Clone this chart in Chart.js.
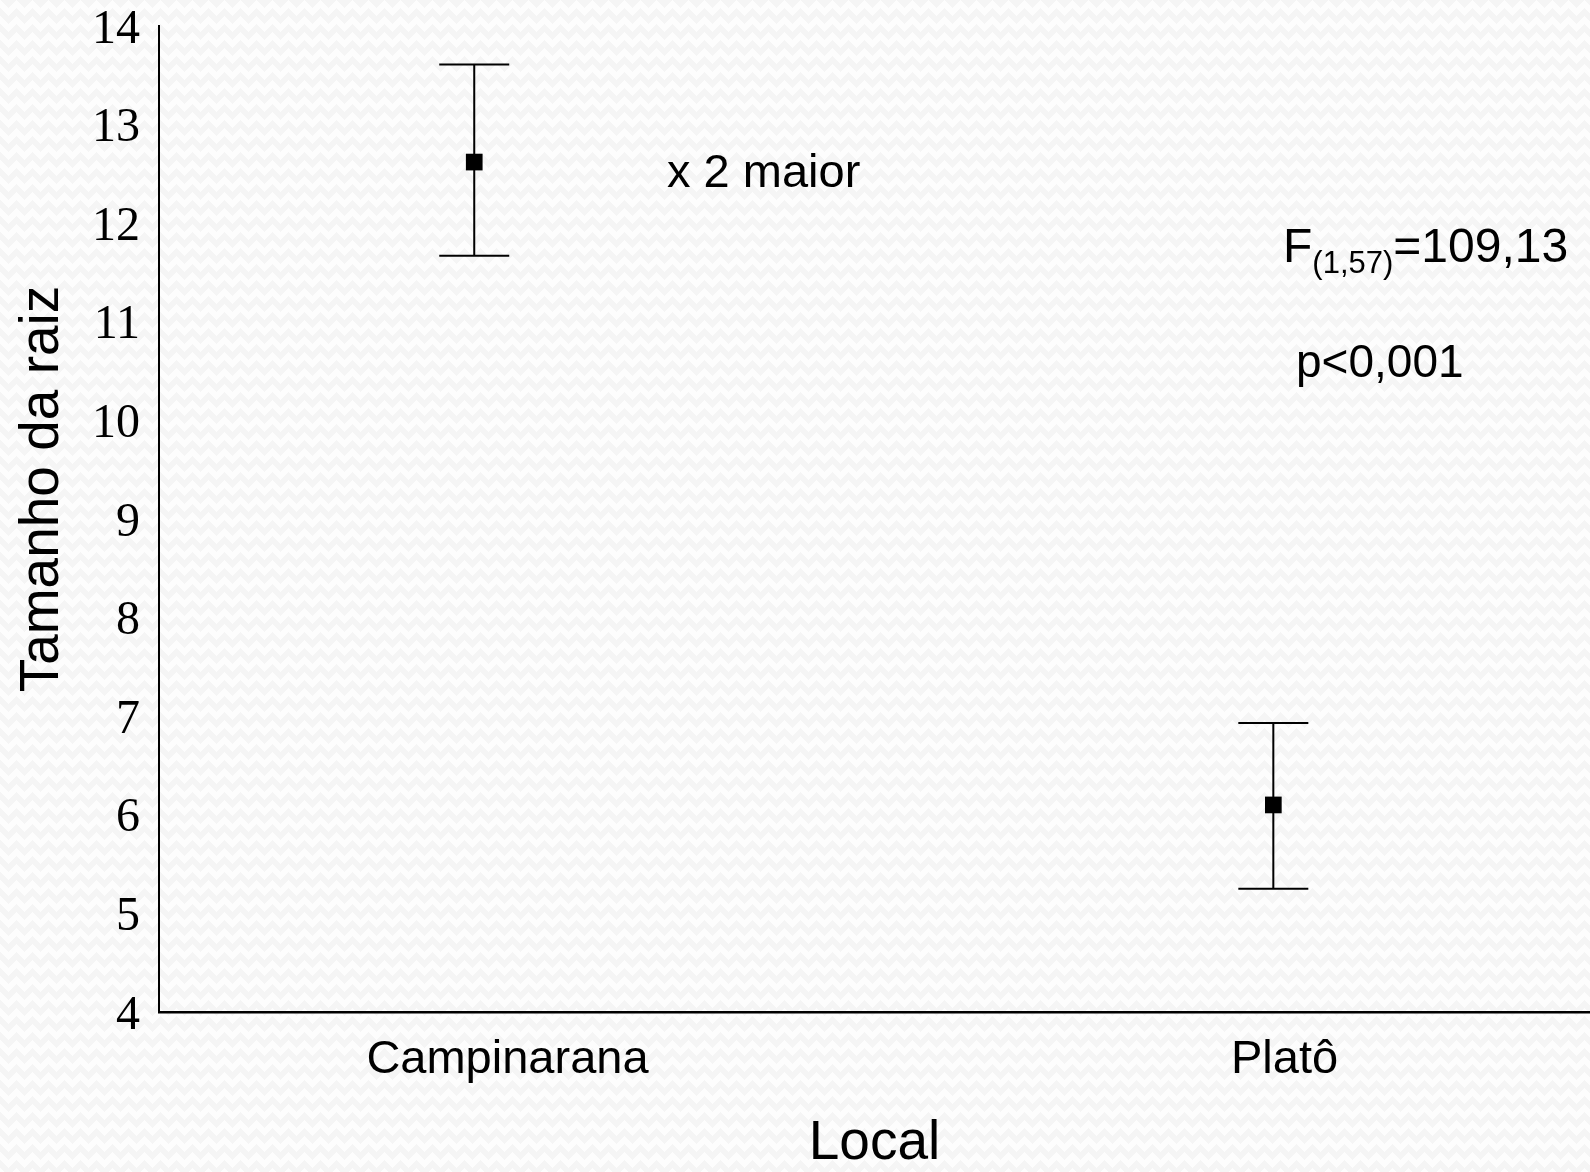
<!DOCTYPE html>
<html>
<head>
<meta charset="utf-8">
<title>Tamanho da raiz por local</title>
<script src="https://cdn.jsdelivr.net/npm/chart.js@4.4.1/dist/chart.umd.min.js"></script>
<style>
  html, body { margin: 0; padding: 0; }
  body {
    width: 1590px; height: 1172px; overflow: hidden;
    background-color: #fdfdfd;
    background-image:
      linear-gradient(135deg, #f5f5f5 25%, transparent 25%),
      linear-gradient(225deg, #f5f5f5 25%, transparent 25%),
      linear-gradient(315deg, #f5f5f5 25%, transparent 25%),
      linear-gradient(45deg, #f5f5f5 25%, transparent 25%);
    background-size: 16px 16px;
    background-position: -8px 0, -8px 0, 0 0, 0 0;
  }
  canvas { display: block; }
</style>
</head>
<body>
<canvas id="raizChart" width="1590" height="1172"></canvas>
<script>
// values
const categories = ['Campinarana', 'Platô'];
const xPos = [1, 2];
const means = [12.62, 6.10];
const upper = [13.61, 6.93];
const lower = [11.67, 5.25];
const yMin = 4, yMax = 14;

const SANS = "'Liberation Sans', Arial, sans-serif";
const SERIF = "'Liberation Serif', 'Times New Roman', serif";

// vertical error bars with caps
const errorBars = {
    id: 'errorBars',
    beforeDatasetsDraw(chart) {
        const ctx = chart.ctx;
        const xs = chart.scales.x, ys = chart.scales.y;
        ctx.save();
        ctx.strokeStyle = '#000';
        ctx.lineWidth = 2;
        xPos.forEach(function(v, i) {
            const px = xs.getPixelForValue(v);
            const hi = ys.getPixelForValue(upper[i]);
            const lo = ys.getPixelForValue(lower[i]);
            ctx.beginPath();
            ctx.moveTo(px, hi); ctx.lineTo(px, lo);
            ctx.moveTo(px - 35, hi); ctx.lineTo(px + 35, hi);
            ctx.moveTo(px - 35, lo); ctx.lineTo(px + 35, lo);
            ctx.stroke();
        });
        ctx.restore();
    }
};

// y title + text annotations
const annotations = {
    id: 'annotations',
    afterDraw(chart) {
        const ctx = chart.ctx;
        ctx.save();
        ctx.fillStyle = '#000';
        ctx.textBaseline = 'alphabetic';

        // y axis title
        ctx.save();
        ctx.translate(58, 489);
        ctx.rotate(-Math.PI / 2);
        ctx.textAlign = 'center';
        ctx.font = '55px ' + SANS;
        ctx.fillText('Tamanho da raiz', 0, 0);
        ctx.restore();

        ctx.textAlign = 'left';
        ctx.font = '47px ' + SANS;
        ctx.fillText('x 2 maior', 667, 187);

        // F(1,57)=109,13
        let x = 1283;
        ctx.font = '48px ' + SANS;
        ctx.fillText('F', x, 262);
        x += ctx.measureText('F').width;
        ctx.font = '31px ' + SANS;
        ctx.fillText('(1,57)', x, 273);
        x += ctx.measureText('(1,57)').width;
        ctx.font = '48px ' + SANS;
        ctx.fillText('=109,13', x, 262);

        ctx.font = '46px ' + SANS;
        ctx.fillText('p<0,001', 1296, 377);
        ctx.restore();
    }
};

const ctx = document.getElementById('raizChart').getContext('2d');
new Chart(ctx, {
    type: 'scatter',
    data: {
        datasets: [{
            data: xPos.map(function(v, i) { return { x: v, y: means[i] }; }),
            pointStyle: 'rect',
            pointRadius: 11.8,
            pointHoverRadius: 11.8,
            backgroundColor: '#000',
            borderWidth: 0
        }]
    },
    options: {
        responsive: false,
        animation: false,
        devicePixelRatio: 1,
        layout: { autoPadding: false, padding: { top: 26, left: 0, right: 0, bottom: 0 } },
        plugins: { legend: { display: false }, tooltip: { enabled: false } },
        scales: {
            x: {
                type: 'linear',
                display: false,
                min: 0.6055,
                max: 2.3963
            },
            xl: {
                type: 'linear',
                position: 'bottom',
                min: 0.5516,
                max: 2.393,
                grid: { display: false, drawTicks: false },
                border: { display: true, color: '#000', width: 2.5 },
                afterBuildTicks: function(s) { s.ticks = xPos.map(function(v) { return { value: v }; }); },
                afterFit: function(s) { s.height = 160; s.paddingLeft = 0; s.paddingRight = 0; },
                ticks: {
                    padding: 20,
                    color: '#000',
                    font: { family: SANS, size: 47 },
                    callback: function(v) { return categories[xPos.indexOf(v)]; }
                },
                title: {
                    display: true,
                    text: 'Local',
                    color: '#000',
                    font: { family: SANS, size: 55, lineHeight: 1 },
                    padding: { top: 0, bottom: 0.5 }
                }
            },
            y: {
                min: yMin,
                max: yMax,
                grid: { display: false, drawTicks: false },
                border: { display: true, color: '#000', width: 2 },
                afterFit: function(s) { s.width = 159; s.paddingTop = 0; s.paddingBottom = 0; },
                ticks: {
                    stepSize: 1,
                    padding: 19,
                    labelOffset: 4,
                    color: '#000',
                    font: { family: SERIF, size: 48 }
                }
            }
        }
    },
    plugins: [errorBars, annotations]
});
</script>
</body>
</html>
